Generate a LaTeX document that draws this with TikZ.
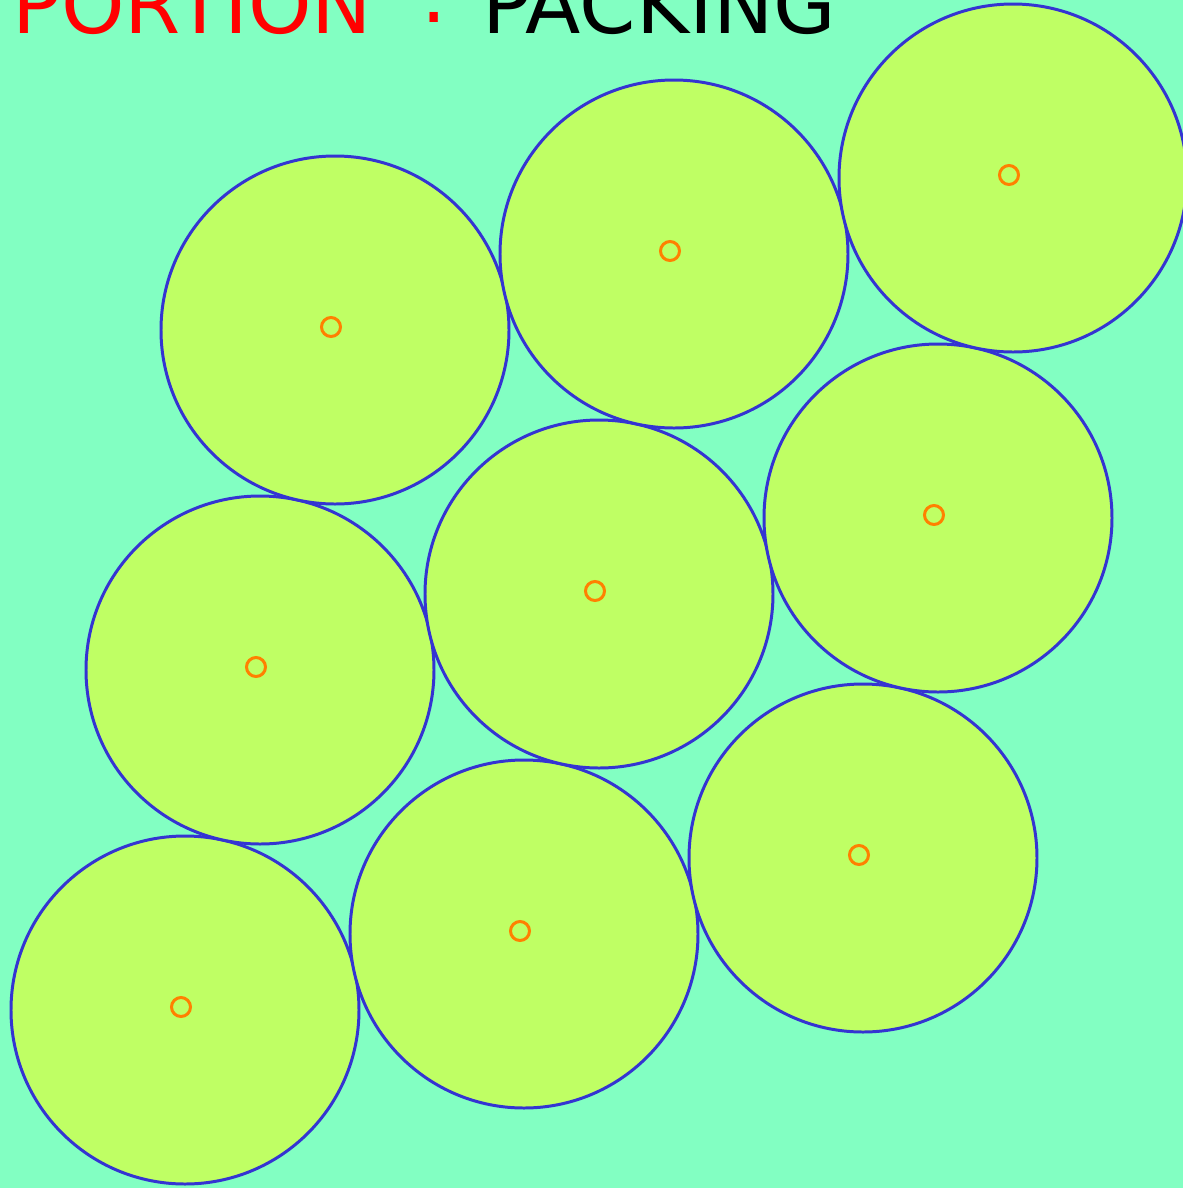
\documentclass[tikz,border=0pt]{standalone}
\usepackage{fontspec}
\usepackage{tikz}
\newfontfamily\sketchfont{DejaVu Sans}
\definecolor{mintbg}{RGB}{130,255,194}
\definecolor{limefill}{RGB}{191,255,100}
\definecolor{rimblue}{RGB}{52,52,210}
\definecolor{markorange}{RGB}{255,128,0}
\tikzset{
  disc/.style={fill=limefill, draw=rimblue, line width=1.7pt},
  centremark/.style={circle, draw=markorange, line width=1.7pt, minimum size=0.38cm, inner sep=0pt},
  heading/.style={anchor=base west, inner sep=0pt, font=\sketchfont\fontsize{46}{50}\selectfont}
}

\begin{document}
\begin{tikzpicture}[x=0.02cm, y=-0.02cm]
        \useasboundingbox (0,0) rectangle (1183,1188);
        \clip (0,0) rectangle (1183,1188);
        \fill[mintbg] (0,0) rectangle (1183,1188);

        % Title, cut by the top edge
        \node[heading, text=red] (portion) at (12,33) {PORTION};
        \node[heading, text=red] (colon) at (420,22) {:};
        \node[heading, text=black] (packing) at (482,33) {PACKING};

        % Discs on a skewed lattice
        \foreach \i in {0,1,2} {
            \foreach \j in {0,1,2} {
                \coordinate (c\i\j) at ({181+339*\i+75*\j}, {1007-76*\i-340*\j});
                \draw[disc] ([shift={(4,3)}]c\i\j) circle[radius=174];
                \node[centremark] (m\i\j) at (c\i\j) {};
            }
        }
    \end{tikzpicture}
\end{document}
